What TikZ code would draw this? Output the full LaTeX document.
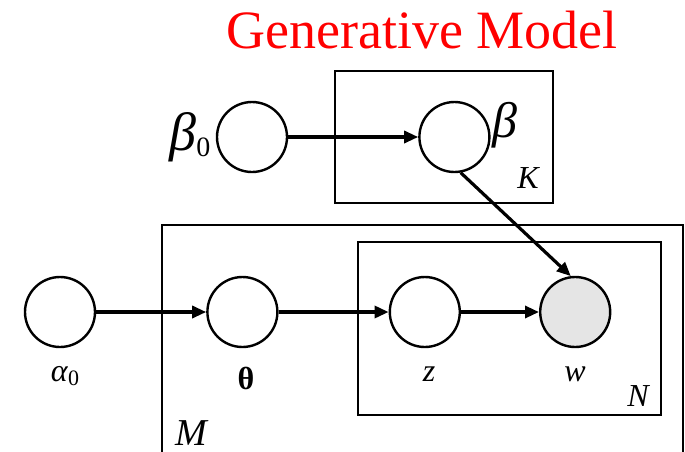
\documentclass[tikz,border=0pt]{standalone}
\usepackage{fontspec}
\setmainfont{Liberation Serif}
\usetikzlibrary{arrows.meta, positioning}
\definecolor{observed}{RGB}{229, 229, 229}
\definecolor{titlered}{RGB}{255, 0, 0}
\tikzset{
  varnode/.style={
    circle, draw=black, line width=1.2pt, fill=white,
    minimum size=35pt, inner sep=0pt
  },
  obsnode/.style={varnode, fill=observed},
  plate/.style={draw=black, line width=0.8pt},
  platelabel/.style={font=\fontsize{16}{16}\selectfont\itshape, inner sep=0pt},
  varlabel/.style={font=\fontsize{16}{16}\selectfont, inner sep=0pt},
  edgeline/.style={
    draw=black, line width=1.6pt, -{Triangle[length=7pt, width=6pt]}
  }
}
\begin{document}
\begin{tikzpicture}[x=0.5pt, y=-0.5pt]
  \clip (0,0) rectangle (685,451);
  \fill[white] (0,0) rectangle (685,451);

  % plates
  \draw[plate] (335,71) rectangle (553,203);
  \draw[plate] (162,225) rectangle (683,470);
  \draw[plate] (358,242) rectangle (661,415);

  % title
  \node[text=titlered, font=\fontsize{27}{27}\selectfont, anchor=base, inner sep=0pt] (title) at (422,48) {Generative Model};

  % variables
  \node[varnode] (beta0) at (252,137) {};
  \node[varnode, right=65pt of beta0] (beta) {};
  \node[varnode] (alpha0) at (60,312) {};
  \node[varnode, right=55pt of alpha0] (theta) {};
  \node[varnode, right=55pt of theta] (z) {};
  \node[obsnode, right=39pt of z] (w) {};

  % labels
  \node[varlabel, font=\fontsize{27}{27}\selectfont] (beta0lab) at (190,137) {\textit{β}\raisebox{-0.25ex}{\fontsize{14}{14}\selectfont 0}};
  \node[varlabel, font=\fontsize{25}{25}\selectfont] (betalab) at (505,125) {\textit{β}};
  \node[varlabel] (alpha0lab) at (65,376) {\textit{α}\raisebox{-0.3ex}{\fontsize{11}{11}\selectfont 0}};
  \node[varlabel] (thetalab) at (246,378) {\textbf{θ}};
  \node[varlabel] (zlab) at (429,374) {\textit{z}};
  \node[varlabel] (wlab) at (575,374) {\textit{w}};
  \node[platelabel] (Klab) at (528,178) {K};
  \node[platelabel] (Nlab) at (638,396) {N};
  \node[platelabel, font=\fontsize{19}{19}\selectfont\itshape] (Mlab) at (191,433) {M};

  % edges
  \draw[edgeline] (beta0) -- (beta);
  \draw[edgeline] (alpha0) -- (theta);
  \draw[edgeline] (theta) -- (z);
  \draw[edgeline] (z) -- (w);
  \draw[edgeline] (beta.-80) -- (w.97);
\end{tikzpicture}
\end{document}
